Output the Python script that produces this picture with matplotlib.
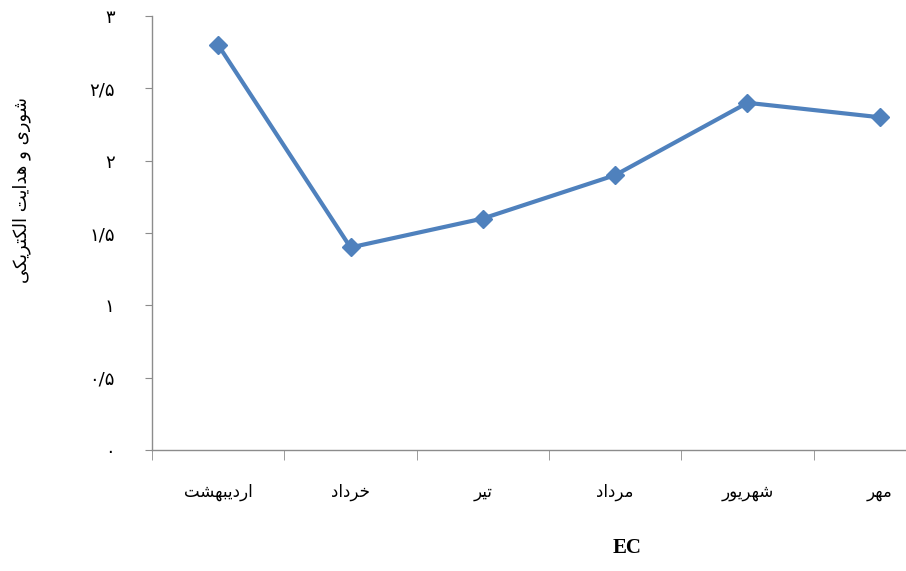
import matplotlib.pyplot as plt
from matplotlib.ticker import FixedLocator

# monthly salinity (EC) readings
months = ['اردیبهشت', 'خرداد', 'تیر', 'مرداد', 'شهریور', 'مهر']
ec = [2.8, 1.4, 1.6, 1.9, 2.4, 2.3]
yticks = [0, 0.5, 1, 1.5, 2, 2.5, 3]
ylabels = ['۰', '۰/۵', '۱', '۱/۵', '۲', '۲/۵', '۳']
ytitle = 'شوری و هدایت الکتریکی'
xtitle = 'EC'

# presentation forms: isolated, final, initial, medial
FORMS = {
    'ا': ('\uFE8D', '\uFE8E'),
    'د': ('\uFEA9', '\uFEAA'),
    'ر': ('\uFEAD', '\uFEAE'),
    'و': ('\uFEED', '\uFEEE'),
    'ب': ('\uFE8F', '\uFE90', '\uFE91', '\uFE92'),
    'ت': ('\uFE95', '\uFE96', '\uFE97', '\uFE98'),
    'خ': ('\uFEA5', '\uFEA6', '\uFEA7', '\uFEA8'),
    'ش': ('\uFEB5', '\uFEB6', '\uFEB7', '\uFEB8'),
    'ل': ('\uFEDD', '\uFEDE', '\uFEDF', '\uFEE0'),
    'م': ('\uFEE1', '\uFEE2', '\uFEE3', '\uFEE4'),
    'ه': ('\uFEE9', '\uFEEA', '\uFEEB', '\uFEEC'),
    'ی': ('\uFBFC', '\uFBFD', '\uFBFE', '\uFBFF'),
    'ک': ('\uFB8E', '\uFB8F', '\uFB90', '\uFB91'),
}


def fa(text):
    # join letters and flip to visual order, matplotlib has no bidi
    out = []
    for i, ch in enumerate(text):
        if ch not in FORMS:
            out.append(ch)
            continue
        prev = text[i - 1] if i > 0 else ''
        nxt = text[i + 1] if i + 1 < len(text) else ''
        join_prev = prev in FORMS and len(FORMS[prev]) == 4
        join_next = nxt in FORMS and len(FORMS[ch]) == 4
        f = FORMS[ch]
        if join_prev and join_next:
            out.append(f[3])
        elif join_prev:
            out.append(f[1])
        elif join_next:
            out.append(f[2])
        else:
            out.append(f[0])
    return ''.join(out)[::-1]


plt.rcParams['font.family'] = ['DejaVu Sans']

fig = plt.figure(figsize=(9.06, 5.71), dpi=100)
ax = fig.add_axes([152 / 906, 121 / 571, 794 / 906, 434 / 571])

x = list(range(len(months)))
ax.plot(x, ec, color='#4F81BD', lw=3, marker='D', ms=9.5,
        markerfacecolor='#4F81BD', markeredgecolor='#4F81BD')

ax.set_xlim(-0.5, len(months) - 0.5)
ax.set_ylim(0, 3)

for s in ['top', 'right']:
    ax.spines[s].set_visible(False)
for s in ['left', 'bottom']:
    ax.spines[s].set_color('#8c8c8c')
    ax.spines[s].set_linewidth(1.0)

ax.set_xticks(x)
ax.set_xticklabels([fa(m) for m in months], fontsize=12)
ax.xaxis.set_minor_locator(FixedLocator([i - 0.5 for i in range(len(months) + 1)]))
ax.tick_params(axis='x', which='major', length=0, pad=24)
ax.tick_params(axis='x', which='minor', length=7, color='#8c8c8c', direction='out')

ax.set_yticks(yticks)
ax.set_yticklabels(ylabels, fontsize=13)
ax.tick_params(axis='y', length=5, color='#8c8c8c', direction='out', pad=22)

ax.set_ylabel(fa(ytitle), fontsize=13)
ax.yaxis.set_label_coords(-0.153, 0.60)
fig.text(627 / 906, 1 - 548 / 571, xtitle, ha='center', va='center',
         fontsize=15, fontweight='bold', family='Liberation Serif')

fig.savefig('out.png', dpi=100)
